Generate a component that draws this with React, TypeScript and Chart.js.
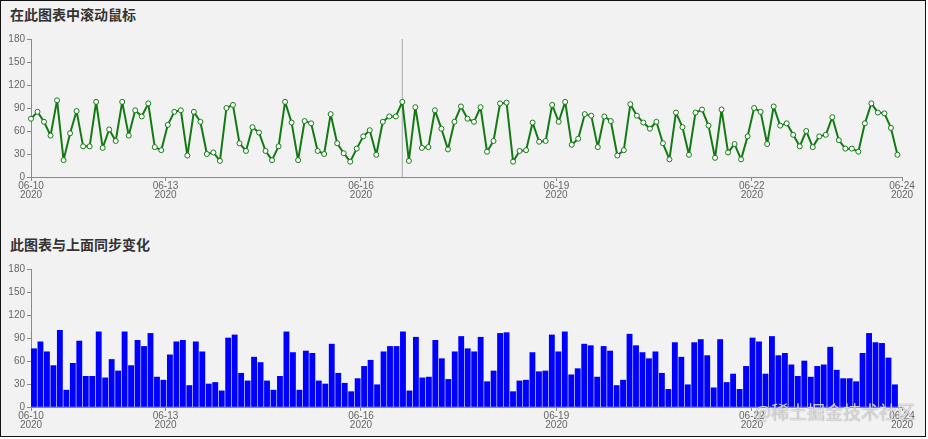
import React, { useEffect, useRef } from "react";
import { Chart, registerables } from "chart.js";

Chart.register(...registerables);

// ---- data ----
const values = [
  76, 85, 72, 54, 100, 22, 57, 86, 40, 40,
  98, 38, 62, 47, 98, 54, 87, 79, 96, 39,
  35, 68, 85, 87, 28, 85, 72, 30, 32, 21,
  90, 94, 44, 34, 65, 58, 34, 22, 40, 98,
  71, 22, 73, 70, 34, 30, 82, 44, 31, 20,
  37, 53, 61, 29, 72, 79, 79, 98, 21, 91,
  38, 39, 87, 63, 36, 72, 92, 76, 72, 91,
  33, 47, 96, 97, 20, 34, 35, 71, 46, 47,
  94, 72, 98, 42, 50, 82, 80, 39, 79, 73,
  28, 35, 95, 80, 71, 63, 72, 44, 23, 84,
  65, 29, 84, 88, 67, 25, 88, 32, 43, 23,
  53, 90, 85, 43, 92, 67, 70, 55, 40, 60,
  39, 53, 55, 78, 48, 37, 37, 33, 70, 96,
  84, 83, 64, 29,
];
const indices = values.map((_, i) => i);
const tickPositions = [0, 20.65, 50.65, 80.65, 110.65, 133.7];
const tickDates = ["06-10", "06-13", "06-16", "06-19", "06-22", "06-24"];
const tickYears = ["2020", "2020", "2020", "2020", "2020", "2020"];
const yTicks = [0, 30, 60, 90, 120, 150, 180];
const hoverIndex = 57;
const topTitle = "在此图表中滚动鼠标";
const bottomTitle = "此图表与上面同步变化";
const watermark = "@稀土掘金技术社区";

// ---- styles ----
const AXIS = "#8a8a8a";
const TICK_TEXT = "#666666";
const FONT = 'Arial, "Liberation Sans", sans-serif';
const X_MAX = 133.7;

function xAxisOptions(height: number) {
  return {
    type: "linear" as const,
    min: 0,
    max: X_MAX,
    offset: false,
    afterBuildTicks: (s: any) => {
      s.ticks = tickPositions.map((v) => ({ value: v }));
    },
    afterFit: (s: any) => {
      s.height = height;
    },
    grid: {
      display: true,
      offset: false,
      drawOnChartArea: false,
      drawTicks: true,
      tickLength: 4,
      color: AXIS,
      lineWidth: 1,
    },
    border: { display: true, color: AXIS, width: 1 },
    ticks: {
      autoSkip: false,
      maxRotation: 0,
      minRotation: 0,
      padding: 1,
      color: TICK_TEXT,
      font: { family: FONT, size: 10, lineHeight: 0.9 },
      callback: (_v: any, i: number) => [tickDates[i], tickYears[i]],
    },
  };
}

function yAxisOptions() {
  return {
    type: "linear" as const,
    min: 0,
    max: 180,
    afterBuildTicks: (s: any) => {
      s.ticks = yTicks.map((v) => ({ value: v }));
    },
    afterFit: (s: any) => {
      s.width = 31;
    },
    grid: {
      display: true,
      drawOnChartArea: false,
      drawTicks: true,
      tickLength: 4,
      color: AXIS,
      lineWidth: 1,
    },
    border: { display: true, color: AXIS, width: 1 },
    ticks: {
      padding: 2,
      color: TICK_TEXT,
      font: { family: FONT, size: 10 },
      callback: (v: any) => String(v),
    },
  };
}

const crosshairPlugin = {
  id: "crosshair",
  beforeDatasetsDraw(chart: any) {
    const { ctx, chartArea, scales } = chart;
    const x = scales.x.getPixelForValue(hoverIndex);
    ctx.save();
    ctx.strokeStyle = "#b4b4b4";
    ctx.lineWidth = 1.2;
    ctx.beginPath();
    ctx.moveTo(x, chartArea.top);
    ctx.lineTo(x, chartArea.bottom);
    ctx.stroke();
    ctx.restore();
  },
};

export default function App() {
  const topRef = useRef<HTMLCanvasElement | null>(null);
  const botRef = useRef<HTMLCanvasElement | null>(null);

  useEffect(() => {
    document.body.style.margin = "0";
    const top = new Chart(topRef.current as HTMLCanvasElement, {
      type: "line",
      data: {
        labels: indices,
        datasets: [
          {
            data: values,
            borderColor: "#137a13",
            borderWidth: 2,
            borderJoinStyle: "round",
            borderCapStyle: "round",
            pointRadius: 2.5,
            pointBackgroundColor: "#ffffff",
            pointBorderColor: "#137a13",
            pointBorderWidth: 1,
            tension: 0,
            clip: false as any,
          },
        ],
      },
      options: {
        responsive: false,
        animation: false,
        devicePixelRatio: 1,
        events: [],
        layout: { padding: { top: 39, right: 24, left: 0, bottom: 0 } },
        plugins: { legend: { display: false }, tooltip: { enabled: false } },
        scales: { x: xAxisOptions(38) as any, y: yAxisOptions() as any },
      },
      plugins: [crosshairPlugin],
    });

    const bot = new Chart(botRef.current as HTMLCanvasElement, {
      type: "bar",
      data: {
        labels: indices,
        datasets: [
          {
            data: values,
            backgroundColor: "#0000ff",
            borderWidth: 0,
            barThickness: 5.2,
            xAxisID: "xb",
            yAxisID: "y",
          },
        ],
      },
      options: {
        responsive: false,
        animation: false,
        devicePixelRatio: 1,
        events: [],
        layout: { padding: { top: 39, right: 24, left: 0, bottom: 0 } },
        plugins: { legend: { display: false }, tooltip: { enabled: false } },
        scales: {
          x: xAxisOptions(30) as any,
          xb: {
            type: "linear",
            display: false,
            offset: false,
            min: -0.46,
            max: 134.09,
            grid: { offset: false },
          } as any,
          y: yAxisOptions() as any,
        },
      },
    });

    return () => {
      top.destroy();
      bot.destroy();
    };
  }, []);

  const titleStyle: React.CSSProperties = {
    position: "absolute",
    left: 9,
    fontFamily: '"Noto Sans CJK SC", sans-serif',
    fontWeight: 700,
    fontSize: 14,
    lineHeight: "14px",
    color: "#333333",
    whiteSpace: "nowrap",
  };

  return (
    <div
      style={{
        position: "relative",
        width: 926,
        height: 437,
        boxSizing: "border-box",
        border: "1px solid #111",
        background: "#f2f2f2",
        overflow: "hidden",
      }}
    >
      <div style={{ ...titleStyle, top: 5.5 }}>{topTitle}</div>
      <div style={{ ...titleStyle, top: 235.5 }}>{bottomTitle}</div>
      <canvas
        ref={topRef}
        width={926}
        height={215}
        style={{ position: "absolute", left: -1, top: -1, width: 926, height: 215 }}
      />
      <canvas
        ref={botRef}
        width={926}
        height={207}
        style={{ position: "absolute", left: -1, top: 229, width: 926, height: 207 }}
      />
      <div
        style={{
          position: "absolute",
          left: 753,
          top: 400,
          fontFamily: '"Noto Sans CJK SC", sans-serif',
          fontSize: 18,
          lineHeight: "20px",
          color: "rgba(255,255,255,0.75)",
          textShadow: "0 0 1px rgba(60,60,60,0.8)",
          whiteSpace: "nowrap",
          pointerEvents: "none",
        }}
      >
        {watermark}
      </div>
    </div>
  );
}
